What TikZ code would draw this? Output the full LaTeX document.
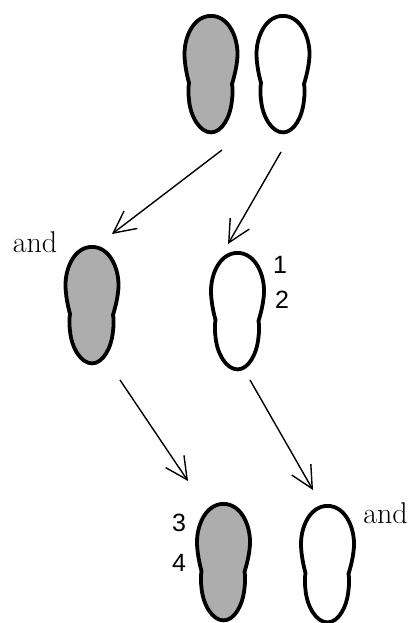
\documentclass[tikz,border=0pt]{standalone}
\usepackage{fontspec}
\newfontfamily\digitfont{Liberation Sans}
\usetikzlibrary{arrows.meta}
\begin{document}
\begin{tikzpicture}[
    x=1pt, y=-1pt,
    outline/.style={line width=3.8pt, line join=round},
    arrow/.style={-{Straight Barb[length=22pt, width=22pt, line width=1.4pt]}, line width=1.4pt},
    word/.style={font=\fontsize{30}{33}\selectfont, anchor=base, inner sep=0pt},
    digit/.style={font=\digitfont\fontsize{25}{28}\selectfont, inner sep=0pt},
    pics/lobe/.style={code={
        \draw[outline, #1] (0,0) .. controls (17,0) and (26.5,20) .. (26.5,38)
            .. controls (26.5,48) and (23.5,60) .. (21,68)
            .. controls (21.8,72) and (21.8,78) .. (21,84)
            .. controls (19.5,101) and (11,116.5) .. (0,116.5)
            .. controls (-11,116.5) and (-20.5,101) .. (-22,84)
            .. controls (-22.8,78) and (-22.8,72) .. (-22,67)
            .. controls (-24,60) and (-26.5,48) .. (-26.5,38)
            .. controls (-26.5,20) and (-17,0) .. (0,0) -- cycle;
    }}
]
    % Fixes the page size
    \useasboundingbox (0,0) rectangle (408,623);

    \def\shade{black!32}

    % Top pair
    \pic at (211,15.9) {lobe={fill=\shade}};
    \pic at (283,15.9) {lobe={fill=white}};

    % Middle pair
    \pic at (92,246.9) {lobe={fill=\shade}};
    \pic at (237.5,252.9) {lobe={fill=white}};

    % Bottom pair
    \pic at (223.5,503.9) {lobe={fill=\shade}};
    \pic at (327.5,505.9) {lobe={fill=white}};

    % Arrow ends
    \coordinate (topleftStart) at (222,150);
    \coordinate (topleftTip) at (112,234);
    \coordinate (toprightStart) at (281,152);
    \coordinate (toprightTip) at (228,244);
    \coordinate (midleftStart) at (120,380);
    \coordinate (midleftTip) at (188,481);
    \coordinate (midrightStart) at (250,380);
    \coordinate (midrightTip) at (313,490);

    \draw[arrow] (topleftStart) -- (topleftTip);
    \draw[arrow] (toprightStart) -- (toprightTip);
    \draw[arrow] (midleftStart) -- (midleftTip);
    \draw[arrow] (midrightStart) -- (midrightTip);

    % Labels
    \node[word] (andLeft) at (35,252) {and};
    \node[word] (andRight) at (385.5,523) {and};
    \node[digit] (one) at (280,265) {1};
    \node[digit] (two) at (282,300) {2};
    \node[digit] (three) at (179,523) {3};
    \node[digit] (four) at (179,563) {4};

\end{tikzpicture}
\end{document}
